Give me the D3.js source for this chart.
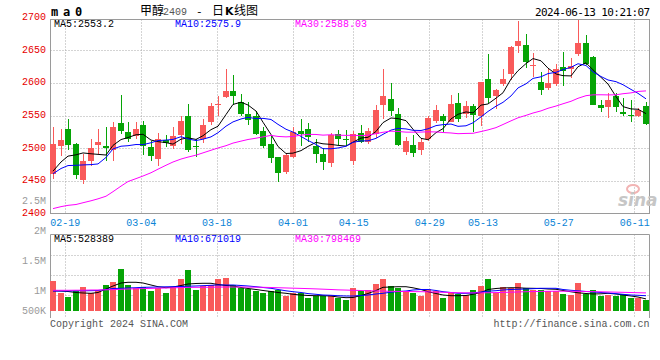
<!DOCTYPE html>
<html><head><meta charset="utf-8">
<script src="https://cdn.jsdelivr.net/npm/d3@7"></script>
<style>
html,body{margin:0;padding:0;background:#fff;}
svg{display:block;}
text{font-family:"Liberation Mono","DejaVu Sans Mono",monospace;font-size:10px;}
</style></head><body>
<svg id="c" width="660" height="360"></svg>
<script>
const dates = ["02-07","02-08","02-19","02-20","02-21","02-22","02-23","02-26","02-27","02-28","02-29","03-01","03-04","03-05","03-06","03-07","03-08","03-11","03-12","03-13","03-14","03-15","03-18","03-19","03-20","03-21","03-22","03-25","03-26","03-27","03-28","03-29","04-01","04-02","04-03","04-08","04-09","04-10","04-11","04-12","04-15","04-16","04-17","04-18","04-19","04-22","04-23","04-24","04-25","04-26","04-29","04-30","05-06","05-07","05-08","05-09","05-10","05-13","05-14","05-15","05-16","05-17","05-20","05-21","05-22","05-23","05-24","05-27","05-28","05-29","05-30","05-31","06-03","06-04","06-05","06-06","06-07","06-11","06-12","06-13"];
const tickDates = ["02-19","03-04","03-18","04-01","04-15","04-29","05-13","05-27","06-11"];

const open = [2460,2503,2530,2507,2452,2480,2505,2504,2498,2539, 2525,2519,2536,2502,2484,2513,2504,2520,2550,2504, 2514,2541,2566,2578,2588,2571,2553,2550,2526,2506, 2486,2464,2487,2526,2530,2503,2491,2477,2522,2514, 2480,2524,2509,2522,2566,2576,2553,2495,2505,2497, 2514,2542,2549,2541,2569,2553,2565,2549,2607,2580, 2599,2614,2657,2659,2626,2601,2593,2599,2624,2621, 2645,2661,2640,2566,2563,2580,2555,2551,2550,2565];
const high = [2533,2529,2545,2508,2491,2514,2529,2533,2541,2581, 2540,2540,2542,2511,2523,2520,2533,2550,2568,2515, 2545,2570,2580,2621,2613,2583,2571,2557,2532,2521, 2487,2491,2532,2545,2539,2515,2500,2523,2528,2528, 2527,2536,2531,2567,2621,2600,2562,2518,2520,2515, 2549,2566,2552,2581,2585,2572,2568,2602,2644,2591, 2621,2657,2695,2676,2646,2617,2623,2629,2648,2639, 2697,2674,2641,2574,2585,2585,2577,2574,2562,2571];
const low = [2453,2488,2497,2453,2446,2473,2491,2481,2481,2522, 2510,2514,2489,2480,2473,2502,2499,2507,2494,2487, 2508,2536,2550,2577,2567,2550,2535,2520,2500,2477, 2449,2461,2485,2503,2509,2477,2466,2472,2505,2503, 2475,2508,2507,2516,2545,2550,2504,2489,2486,2489, 2511,2539,2525,2540,2541,2547,2525,2534,2569,2561, 2596,2605,2646,2623,2610,2581,2589,2596,2596,2608, 2641,2627,2566,2555,2547,2555,2549,2541,2548,2536];
const close = [2507,2513,2505,2459,2481,2500,2509,2500,2533,2526, 2515,2530,2504,2488,2514,2508,2519,2542,2498,2502, 2536,2565,2568,2588,2580,2553,2544,2522,2503,2485, 2462,2490,2525,2522,2517,2492,2479,2521,2514,2512, 2522,2510,2527,2559,2580,2557,2505,2511,2493,2509, 2547,2559,2542,2568,2545,2565,2551,2602,2577,2590, 2607,2656,2665,2632,2628,2590,2600,2621,2619,2626, 2661,2630,2567,2562,2574,2564,2553,2549,2559,2537];

const ma5 = [2465,2479,2488,2490,2492.9,2491.6,2490.7,2489.7,2504.5,2513.4, 2516.5,2520.8,2521.5,2512.6,2510.2,2508.7,2506.4,2514,2516,2513.6, 2519.3,2528.6,2533.8,2551.8,2567.3,2570.7,2566.4,2557.1,2540,2521.1, 2502.8,2492,2492.6,2496.4,2502.9,2509.1,2506.9,2506,2504.5,2503.4, 2509.4,2515.7,2516.9,2525.9,2539.4,2546.5,2545.5,2542.4,2529.3,2515.2, 2513.2,2524,2530.1,2545.1,2552.2,2555.8,2554.3,2566.2,2568,2576.9, 2585.2,2606.3,2619,2629.9,2637.6,2634.2,2622.9,2614,2611.4,2611, 2625.1,2631.1,2620.3,2608.8,2598.6,2579.3,2563.9,2560.4,2559.9,2553.2];
const ma10 = [2461,2469,2473.5,2474,2474.5,2475,2476,2486,2499,2503.2, 2504,2505.8,2505.6,2508.5,2511.8,2512.6,2513.6,2517.8,2514.3,2511.9, 2514,2517.5,2523.9,2533.9,2540.5,2545,2547.5,2545.5,2545.9,2544.2, 2536.7,2529.2,2524.9,2518.2,2512,2505.9,2499.4,2499.3,2500.5,2503.2, 2509.2,2511.3,2511.5,2515.2,2521.4,2527.9,2530.6,2529.7,2527.6,2527.3, 2529.9,2534.8,2536.3,2537.2,2533.7,2534.5,2539.1,2548.2,2556.5,2564.6, 2570.5,2580.3,2592.6,2598.9,2607.2,2609.7,2614.6,2616.5,2620.7,2624.3, 2629.7,2627,2617.2,2610.1,2604.8,2602.2,2597.5,2590.3,2584.3,2575.9];
const ma30 = [2407.5,2410.5,2412.5,2413.8,2416.5,2419.5,2422.5,2426.5,2433.5,2442, 2449,2453.5,2457.5,2462.5,2468,2474,2479,2483.5,2486.5,2489.5, 2493,2497,2500.5,2504,2508,2511,2513.5,2515.5,2517.5,2519.8, 2518.2,2517.5,2518.1,2520.2,2521.4,2521.2,2520.2,2520.8,2520.2,2519.8, 2520,2519.3,2520.1,2522.4,2524.6,2526.3,2525.8,2524.8,2524.7,2524.9, 2525.3,2525.1,2524.2,2523.5,2522.4,2522.8,2523,2525.7,2528.2,2531.7, 2536.5,2542.1,2546.8,2550.5,2554.1,2557.4,2561.4,2564.8,2568.3,2572.1, 2576.7,2580.7,2582,2582.1,2581.9,2582.1,2583.7,2585,2587.2,2588.03];

// volume in thousands of lots
const volumeK = [1332,798,628,892,1063,803,870,1152,1291,1870, 1152,1004,1058,901,1018,794,1076,1421,1825,928, 1112,1152,1421,1475,1139,1031,978,883,807,901, 928,664,780,816,583,664,664,704,570,502, 1018,888,928,1197,1421,1112,1027,888,807,673, 978,861,583,807,771,726,928,1108,1421,780, 1063,1004,1242,1018,915,928,897,897,749,704, 1242,749,928,673,704,673,740,583,583,489];
const volMa5K = [892,883,861,816,794,780,816,973,1108,1242, 1274,1274,1242,1152,1076,1031,1063,1130,1197,1220, 1229,1229,1175,1130,1108,1040,996,951,906,861, 816,780,735,704,682,673,673,659,614,583, 592,682,771,906,1049,1063,1076,1076,1027,951, 852,771,704,673,673,682,735,816,951,996, 1018,1031,1027,1009,1004,996,973,960,906,848, 803,771,749,758,780,749,704,659,614,528];
const volMa10K = [883,883,883,892,892,897,906,951,996,1004, 1018,1031,1049,1054,1063,1072,1076,1085,1099,1108, 1121,1139,1152,1152,1152,1130,1108,1076,1040,1004, 951,892,852,816,767,735,704,691,673,659, 659,682,704,749,780,830,861,883,928,951, 951,906,852,816,780,780,794,839,874,897, 928,951,960,973,987,1004,1004,1004,951,915, 892,861,839,816,794,762,735,704,691,671];
const volMa30K = [915,915,915,919,919,928,928,937,946,960, 973,982,991,1000,1009,1018,1027,1036,1045,1049, 1049,1054,1058,1063,1063,1063,1058,1054,1049,1040, 1030,1020,1010,1000,990,978,965,950,935,925, 915,905,895,885,878,870,865,860,856,852, 845,835,825,815,805,800,798,800,805,812, 820,830,840,850,858,865,870,873,875,873, 868,862,855,848,840,832,824,815,806,798];

const priceTicks = [2400,2450,2500,2550,2600,2650,2700];
const volTicksK = [500,1000,1500,2000,2500];
const volTickLabels = ["500K","1M","1.5M","2M","2.5M"];
const maPriceText = ["MA5:2553.2","MA10:2575.9","MA30:2588.03"];
const maVolText = ["MA5:528389","MA10:671019","MA30:798469"];
const maColors = ["#000000","#0000ff","#ff00ff"];

const RED = "#f95a5a", GREEN = "#06a406", GRID = "#a8a8a8", BORDER = "#9a9a9a";
const svg = d3.select("#c");
const n = dates.length;
const x = d3.scaleBand().domain(d3.range(n)).range([50,650]).paddingInner(0.2).paddingOuter(0.1);
const bw = Math.round(x.bandwidth());
const bx = i => Math.floor(x(i));
const gx = d3.scaleLinear().domain([0, n-1]).range([50,650]);
const y = d3.scaleLinear().domain([2400,2700]).range([213.5,17.9]);
const yv = d3.scaleLinear().domain([0,2000]).range([310.7,266.1]);
const yvLab = d3.scaleLinear().domain([1000,2500]).range([294,204]);

const PT = 19.5, PB = 213.5, VT = 234.5, VB = 318, L = 50.5, R = 649.5;
const tickIdx = tickDates.map(d => dates.indexOf(d));

// grid
const g = svg.append("g").attr("stroke", GRID).attr("stroke-dasharray","1,2").attr("fill","none");
priceTicks.filter(t => t > 2400 && t < 2700).forEach(t => {
  const yy = Math.round(y(t)) + 0.5;
  g.append("line").attr("x1",L).attr("x2",R).attr("y1",yy).attr("y2",yy);
});
[255.5,275.5,295.5].forEach(yy => g.append("line").attr("x1",L).attr("x2",R).attr("y1",yy).attr("y2",yy));
tickIdx.forEach(i => {
  const xx = Math.floor(gx(i)) + 0.5;
  g.append("line").attr("x1",xx).attr("x2",xx).attr("y1",PT).attr("y2",PB);
  g.append("line").attr("x1",xx).attr("x2",xx).attr("y1",VT).attr("y2",VB);
});

// borders
const b = svg.append("g").attr("stroke", BORDER).attr("fill","none");
b.append("rect").attr("x",L).attr("y",PT).attr("width",R-L).attr("height",PB-PT);
b.append("line").attr("x1",L).attr("x2",R).attr("y1",VT).attr("y2",VT);
b.append("line").attr("x1",L).attr("x2",L).attr("y1",VT).attr("y2",VB);
b.append("line").attr("x1",R).attr("x2",R).attr("y1",VT).attr("y2",VB);

// sina watermark
const wm = svg.append("g");
wm.append("ellipse").attr("cx",633).attr("cy",189).attr("rx",6).attr("ry",4).attr("fill","none").attr("stroke","#f2b4b4").attr("stroke-width",2);
wm.append("text").attr("x",618).attr("y",206).style("font-family","'DejaVu Sans',sans-serif").style("font-size","17px").style("font-style","italic").style("font-weight","bold").attr("fill","#c6c6c6").text("sina");

// candles
const idx = d3.range(n);
const cg = svg.append("g").attr("shape-rendering","crispEdges");
cg.selectAll("rect.w").data(idx).join("rect").attr("class","w")
  .attr("x", i => bx(i) + Math.floor(bw/2)).attr("width",1)
  .attr("y", i => y(high[i])).attr("height", i => Math.max(1, y(low[i]) - y(high[i])))
  .attr("fill", i => close[i] >= open[i] ? RED : GREEN);
cg.selectAll("rect.b").data(idx).join("rect").attr("class","b")
  .attr("x", i => bx(i)).attr("width", bw)
  .attr("y", i => y(Math.max(open[i], close[i])))
  .attr("height", i => Math.max(1, Math.abs(y(open[i]) - y(close[i]))))
  .attr("fill", i => close[i] >= open[i] ? RED : GREEN);

// volume bars
cg.selectAll("rect.v").data(idx).join("rect").attr("class","v")
  .attr("x", i => bx(i)).attr("width", bw)
  .attr("y", i => yv(volumeK[i])).attr("height", i => yv(0) - yv(volumeK[i]))
  .attr("fill", i => close[i] >= open[i] ? RED : GREEN);

// MA lines
const lx = i => bx(i) + bw/2;
[ma5, ma10, ma30].forEach((arr, k) => {
  svg.append("path").datum(idx).attr("fill","none").attr("stroke", maColors[k]).attr("stroke-width",1)
    .attr("d", d3.line().x(lx).y(i => y(arr[i])));
});
[volMa5K, volMa10K, volMa30K].forEach((arr, k) => {
  svg.append("path").datum(idx).attr("fill","none").attr("stroke", maColors[k]).attr("stroke-width",1)
    .attr("d", d3.line().x(lx).y(i => yv(arr[i])));
});

// axis labels
svg.append("g").selectAll("text").data(priceTicks).join("text")
  .attr("x",46).attr("y", t => y(t) + 2.3).attr("text-anchor","end").attr("fill","#e60000").text(t => t);
svg.append("g").selectAll("text").data(volTicksK).join("text")
  .attr("x",46).attr("y", t => Math.min(yvLab(t), 314)).attr("text-anchor","end").attr("fill","#9a9a9a")
  .text((t, k) => volTickLabels[k]);
svg.append("g").selectAll("text").data(tickIdx).join("text")
  .attr("x", i => gx(i)).attr("y",225.5).attr("text-anchor","middle").attr("fill","#0a84d6")
  .text(i => dates[i]);

// MA legends
const mx = [54, 175, 295];
maPriceText.forEach((t,k) => svg.append("text").attr("x",mx[k]).attr("y",27).attr("fill",maColors[k]).text(t));
maVolText.forEach((t,k) => svg.append("text").attr("x",mx[k]).attr("y",242).attr("fill",maColors[k]).text(t));

// header
svg.append("text").attr("x",51).attr("y",16).style("font-family","'DejaVu Sans Mono',monospace").style("font-size","12px").style("font-weight","bold").style("letter-spacing","-1.2px").attr("fill","#000").text("m a 0");
const cjk = "'Noto Sans CJK SC',sans-serif";
svg.append("text").attr("x",140).attr("y",15).style("font-family",cjk).style("font-size","12px").attr("fill","#000").text("甲醇");
svg.append("text").attr("x",163).attr("y",15).style("font-size","10px").attr("fill","#555").text("2409");
svg.append("text").attr("x",196).attr("y",15).style("font-size","11px").attr("fill","#000").text("-");
svg.append("text").attr("x",212).attr("y",15).style("font-family",cjk).style("font-size","12px").attr("fill","#000").text("日");
svg.append("text").attr("x",225).attr("y",15).style("font-family","'DejaVu Sans',sans-serif").style("font-size","11px").style("font-weight","bold").attr("fill","#000").text("K");
svg.append("text").attr("x",234).attr("y",15).style("font-family",cjk).style("font-size","12px").attr("fill","#000").text("线图");
svg.append("text").attr("x",649.5).attr("y",16).attr("text-anchor","end").style("font-family","'DejaVu Sans Mono',monospace").style("font-size","11px").style("letter-spacing","-0.6px").attr("fill","#000").text("2024-06-13 10:21:07");

// footer
svg.append("text").attr("x",50).attr("y",327).attr("fill","#555").text("Copyright 2024 SINA.COM");
svg.append("text").attr("x",649.5).attr("y",327).attr("text-anchor","end").attr("fill","#555").text("http://finance.sina.com.cn");
</script>
</body></html>
